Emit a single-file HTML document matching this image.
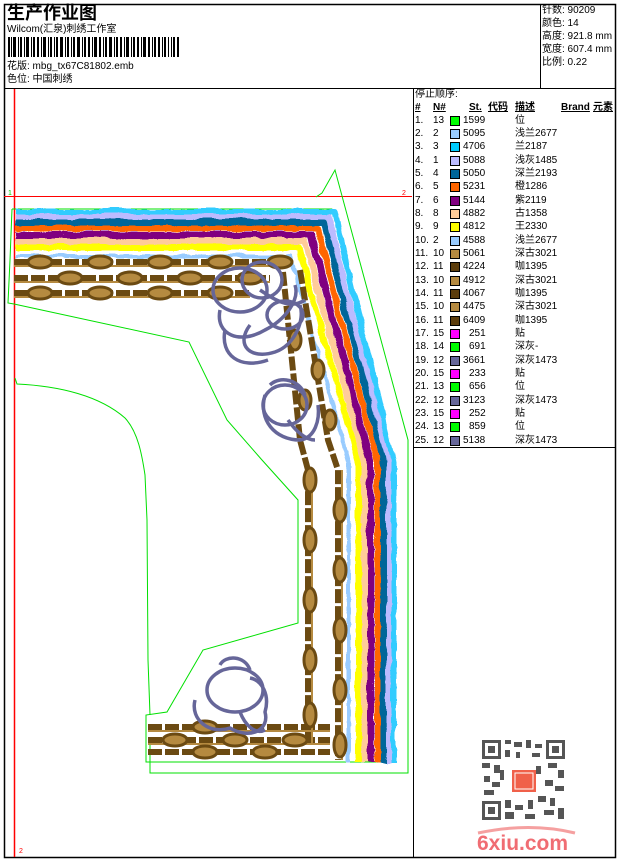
<!DOCTYPE html>
<html><head><meta charset="utf-8"><style>
html,body{margin:0;padding:0;background:#fff;}
body{width:620px;height:860px;position:relative;overflow:hidden;font-family:"Liberation Sans","Noto Sans CJK SC",sans-serif;}
.t{position:absolute;font-size:10px;color:#000;white-space:nowrap;line-height:12px;}
</style></head><body>
<svg width="620" height="860" style="position:absolute;left:0;top:0" xmlns="http://www.w3.org/2000/svg">
<defs>
<filter id="wv" x="-5%" y="-5%" width="110%" height="110%">
<feTurbulence type="turbulence" baseFrequency="0.04 0.04" numOctaves="2" seed="3" result="n"/>
<feDisplacementMap in="SourceGraphic" in2="n" scale="5" xChannelSelector="R" yChannelSelector="G"/>
</filter>
</defs>
<rect x="4.5" y="4.5" width="611" height="853" fill="none" stroke="#000" stroke-width="1.5"/>
<line x1="4" y1="88.5" x2="616" y2="88.5" stroke="#000"/>
<line x1="540.5" y1="4" x2="540.5" y2="88" stroke="#000"/>
<line x1="413.5" y1="88" x2="413.5" y2="858" stroke="#000"/>
<line x1="413" y1="447.5" x2="616" y2="447.5" stroke="#000"/>
<g fill="#000">
<rect x="8" y="37" width="2" height="20"/><rect x="11" y="37" width="1" height="20"/><rect x="13" y="37" width="3" height="20"/><rect x="18" y="37" width="1" height="20"/><rect x="20" y="37" width="2" height="20"/><rect x="24" y="37" width="1" height="20"/><rect x="26" y="37" width="3" height="20"/><rect x="31" y="37" width="1" height="20"/><rect x="33" y="37" width="2" height="20"/><rect x="37" y="37" width="2" height="20"/><rect x="41" y="37" width="1" height="20"/><rect x="43" y="37" width="3" height="20"/><rect x="48" y="37" width="1" height="20"/><rect x="50" y="37" width="2" height="20"/><rect x="54" y="37" width="1" height="20"/><rect x="56" y="37" width="2" height="20"/><rect x="60" y="37" width="3" height="20"/><rect x="65" y="37" width="1" height="20"/><rect x="67" y="37" width="2" height="20"/><rect x="71" y="37" width="1" height="20"/><rect x="73" y="37" width="2" height="20"/><rect x="77" y="37" width="3" height="20"/><rect x="82" y="37" width="1" height="20"/><rect x="84" y="37" width="2" height="20"/><rect x="88" y="37" width="2" height="20"/><rect x="92" y="37" width="1" height="20"/><rect x="94" y="37" width="3" height="20"/><rect x="99" y="37" width="2" height="20"/><rect x="103" y="37" width="1" height="20"/><rect x="105" y="37" width="2" height="20"/><rect x="109" y="37" width="3" height="20"/><rect x="114" y="37" width="1" height="20"/><rect x="116" y="37" width="2" height="20"/><rect x="120" y="37" width="2" height="20"/><rect x="124" y="37" width="1" height="20"/><rect x="126" y="37" width="3" height="20"/><rect x="131" y="37" width="1" height="20"/><rect x="133" y="37" width="2" height="20"/><rect x="137" y="37" width="2" height="20"/><rect x="141" y="37" width="1" height="20"/><rect x="143" y="37" width="3" height="20"/><rect x="148" y="37" width="2" height="20"/><rect x="152" y="37" width="1" height="20"/><rect x="154" y="37" width="2" height="20"/><rect x="158" y="37" width="2" height="20"/><rect x="162" y="37" width="1" height="20"/><rect x="164" y="37" width="2" height="20"/><rect x="168" y="37" width="1" height="20"/><rect x="171" y="37" width="1" height="20"/><rect x="173" y="37" width="2" height="20"/><rect x="177" y="37" width="2" height="20"/>
</g>
<line x1="14.5" y1="89" x2="14.5" y2="857" stroke="#f00" stroke-width="1.5"/>
<line x1="4" y1="196.5" x2="412" y2="196.5" stroke="#f00" stroke-width="1"/>
<text x="8" y="195" font-size="7" fill="#0c0" font-family="Liberation Sans">1</text>
<text x="402" y="195" font-size="7" fill="#f00" font-family="Liberation Sans">2</text>
<text x="19" y="853" font-size="7" fill="#f00" font-family="Liberation Sans">2</text>
<g fill="none" stroke="#00e000" stroke-width="1">
<polyline points="316,197 322,193 335,170 408,440 408,773 150,773 150,745"/>
<polyline points="12,209 332,209"/>
<polyline points="12,209 10,260 8,303 14,304 189,342 227,420 262,460 298,500 298,623 203,650 167,712 146,715 146,762 330,762 395,762"/>
<path d="M15,378 L17,384 C60,386 100,396 125,418 C138,432 142,455 145,475 L147,520 L148,660 L150,715"/>
</g>
<g fill="none" stroke-width="6" filter="url(#wv)" stroke-linejoin="round">
<polyline stroke="#33ccff" points="14,211 333,211 392,460 392,762"/>
<polyline stroke="#bbbbff" points="14,216 327,216 387,460 387,762"/>
<polyline stroke="#006699" points="14,221 322,221 382,460 382,762"/>
<polyline stroke="#ff6600" points="14,227 316,227 376,460 376,762"/>
<polyline stroke="#800080" stroke-width="7" points="14,234 310,234 369,460 369,762"/>
<polyline stroke="#ffcc99" points="14,240 304,240 363,460 363,762"/>
<polyline stroke="#ffff00" points="14,246 298,246 357,460 357,762"/>
<polyline stroke="#99ccff" stroke-width="4" points="14,255 290,255 347,460 347,762"/>
</g>
<g fill="none" stroke-linejoin="round">
<g stroke="#6b4a12" stroke-width="6" stroke-dasharray="14 3">
<polyline points="14,262 290,262"/>
<polyline points="14,278 270,278"/>
<polyline points="14,293 250,293"/>
<polyline points="283,272 300,440 308,470 308,745"/>
<polyline points="300,270 328,440 338,470 338,760"/>
<polyline points="148,727 330,727"/>
<polyline points="148,740 330,740"/>
<polyline points="148,752 330,752"/>
</g>
<g stroke="#b58a40" stroke-width="2">
<polyline points="14,266 290,266"/><polyline points="14,282 270,282"/><polyline points="14,297 250,297"/>
<polyline points="312,470 312,745"/><polyline points="342,470 342,760"/>
<polyline points="148,731 330,731"/><polyline points="148,744 330,744"/>
</g>
</g>
<g fill="#b58a40" stroke="#6b4a12" stroke-width="3">
<ellipse cx="40" cy="262" rx="12" ry="6"/><ellipse cx="100" cy="262" rx="12" ry="6"/><ellipse cx="160" cy="262" rx="12" ry="6"/><ellipse cx="220" cy="262" rx="12" ry="6"/><ellipse cx="280" cy="262" rx="12" ry="6"/>
<ellipse cx="70" cy="278" rx="12" ry="6"/><ellipse cx="130" cy="278" rx="12" ry="6"/><ellipse cx="190" cy="278" rx="12" ry="6"/><ellipse cx="250" cy="278" rx="12" ry="6"/>
<ellipse cx="40" cy="293" rx="12" ry="6"/><ellipse cx="100" cy="293" rx="12" ry="6"/><ellipse cx="160" cy="293" rx="12" ry="6"/><ellipse cx="220" cy="293" rx="12" ry="6"/>
<ellipse cx="310" cy="480" rx="6" ry="12"/><ellipse cx="310" cy="540" rx="6" ry="12"/><ellipse cx="310" cy="600" rx="6" ry="12"/><ellipse cx="310" cy="660" rx="6" ry="12"/><ellipse cx="310" cy="715" rx="6" ry="12"/>
<ellipse cx="340" cy="510" rx="6" ry="12"/><ellipse cx="340" cy="570" rx="6" ry="12"/><ellipse cx="340" cy="630" rx="6" ry="12"/><ellipse cx="340" cy="690" rx="6" ry="12"/><ellipse cx="340" cy="745" rx="6" ry="12"/>
<ellipse cx="295" cy="340" rx="6" ry="10"/><ellipse cx="305" cy="400" rx="6" ry="10"/><ellipse cx="330" cy="420" rx="6" ry="10"/><ellipse cx="318" cy="370" rx="6" ry="10"/>
<ellipse cx="175" cy="740" rx="12" ry="6"/><ellipse cx="235" cy="740" rx="12" ry="6"/><ellipse cx="295" cy="740" rx="12" ry="6"/>
<ellipse cx="205" cy="727" rx="12" ry="6"/><ellipse cx="265" cy="752" rx="12" ry="6"/><ellipse cx="205" cy="752" rx="12" ry="6"/>
</g>
<g fill="none" stroke="#666699" stroke-width="3.5" stroke-linejoin="round">
<ellipse cx="240" cy="290" rx="27" ry="22"/>
<ellipse cx="262" cy="280" rx="20" ry="18"/>
<path d="M220,310 C215,335 240,345 265,330 C285,320 300,300 295,285"/>
<path d="M250,325 C235,345 250,360 275,352 C295,345 305,320 300,305"/>
<path d="M260,290 C275,300 290,310 305,300"/>
<ellipse cx="285" cy="315" rx="18" ry="14"/>
<path d="M225,330 C220,355 240,370 268,360"/>
<ellipse cx="285" cy="405" rx="22" ry="20"/>
<path d="M265,395 C258,420 275,440 300,440 C315,438 320,420 318,405"/>
<path d="M270,385 C280,375 300,380 305,395"/>
<path d="M288,420 C295,430 305,440 315,440"/>
<ellipse cx="235" cy="690" rx="28" ry="22"/>
<path d="M195,700 C190,720 210,735 230,728 C250,740 270,730 265,712 C270,695 262,680 250,678"/>
<path d="M220,665 C225,655 245,655 250,670"/>
<path d="M240,712 C245,725 255,735 265,730"/>
</g>
<g fill="#555">
<rect x="482" y="740" width="19" height="19"/><rect x="546" y="740" width="19" height="19"/><rect x="482" y="801" width="19" height="19"/>
<rect x="505" y="740" width="6" height="4"/><rect x="514" y="742" width="8" height="5"/><rect x="526" y="740" width="5" height="8"/><rect x="535" y="744" width="7" height="4"/>
<rect x="505" y="750" width="5" height="7"/><rect x="516" y="752" width="4" height="6"/><rect x="532" y="753" width="8" height="4"/>
<rect x="482" y="763" width="8" height="5"/><rect x="494" y="765" width="6" height="8"/><rect x="548" y="763" width="9" height="5"/><rect x="558" y="770" width="6" height="8"/>
<rect x="484" y="776" width="6" height="6"/><rect x="492" y="782" width="8" height="5"/><rect x="545" y="780" width="8" height="6"/><rect x="555" y="786" width="9" height="5"/>
<rect x="484" y="790" width="10" height="5"/><rect x="505" y="800" width="6" height="8"/><rect x="515" y="805" width="8" height="5"/><rect x="528" y="800" width="5" height="9"/>
<rect x="538" y="796" width="8" height="6"/><rect x="550" y="798" width="5" height="8"/><rect x="544" y="810" width="10" height="5"/><rect x="558" y="808" width="6" height="11"/>
<rect x="505" y="812" width="9" height="7"/><rect x="525" y="814" width="10" height="5"/><rect x="500" y="770" width="4" height="10"/><rect x="536" y="766" width="5" height="8"/>
</g>
<g fill="#fff"><rect x="485" y="743" width="13" height="13"/><rect x="549" y="743" width="13" height="13"/><rect x="485" y="804" width="13" height="13"/></g>
<g fill="#555"><rect x="488" y="746" width="7" height="7"/><rect x="552" y="746" width="7" height="7"/><rect x="488" y="807" width="7" height="7"/></g>
<rect x="512" y="770" width="24" height="22" fill="#f0604a"/>
<rect x="515" y="773" width="18" height="16" fill="none" stroke="#fff" stroke-width="1"/>
<path d="M478,833 Q530,822 575,833" fill="none" stroke="#f5a0a0" stroke-width="3"/>
<text x="477" y="850" font-family="Liberation Sans" font-weight="bold" font-size="21" fill="#f06d73">6xiu.com</text>
</svg>
<div class="t" style="left:7px;top:3px;font-size:18px;line-height:20px;font-weight:bold;">生产作业图</div>
<div class="t" style="left:7px;top:24px;">Wilcom(汇泉)刺绣工作室</div>
<div class="t" style="left:7px;top:61px;">花版: mbg_tx67C81802.emb</div>
<div class="t" style="left:7px;top:74px;">色位: 中国刺绣</div>
<div class="t" style="left:542px;top:5px;">针数: 90209</div>
<div class="t" style="left:542px;top:18px;">颜色: 14</div>
<div class="t" style="left:542px;top:31px;">高度: 921.8 mm</div>
<div class="t" style="left:542px;top:44px;">宽度: 607.4 mm</div>
<div class="t" style="left:542px;top:57px;">比例: 0.22</div>
<div class="t" style="left:415px;top:89px;">停止顺序:</div>
<div class="t" style="left:415px;top:102px;font-weight:bold;text-decoration:underline;">#</div>
<div class="t" style="left:433px;top:102px;font-weight:bold;text-decoration:underline;">N#</div>
<div class="t" style="left:469px;top:102px;font-weight:bold;text-decoration:underline;">St.</div>
<div class="t" style="left:488px;top:102px;font-weight:bold;text-decoration:underline;">代码</div>
<div class="t" style="left:515px;top:102px;font-weight:bold;text-decoration:underline;">描述</div>
<div class="t" style="left:561px;top:102px;font-weight:bold;text-decoration:underline;">Brand</div>
<div class="t" style="left:593px;top:102px;font-weight:bold;text-decoration:underline;">元素</div>
<div style="position:absolute;left:0;top:0;">
<div class="t" style="left:415px;top:115px">1.</div><div class="t" style="left:433px;top:115px">13</div><div style="position:absolute;left:450px;top:116px;width:8px;height:8px;border:1px solid #000;background:#00ff00"></div><div class="t" style="left:463px;top:115px">1599</div><div class="t" style="left:515px;top:115px">位</div>
<div class="t" style="left:415px;top:128px">2.</div><div class="t" style="left:433px;top:128px">2</div><div style="position:absolute;left:450px;top:129px;width:8px;height:8px;border:1px solid #000;background:#99ccff"></div><div class="t" style="left:463px;top:128px">5095</div><div class="t" style="left:515px;top:128px">浅兰2677</div>
<div class="t" style="left:415px;top:141px">3.</div><div class="t" style="left:433px;top:141px">3</div><div style="position:absolute;left:450px;top:142px;width:8px;height:8px;border:1px solid #000;background:#00ccff"></div><div class="t" style="left:463px;top:141px">4706</div><div class="t" style="left:515px;top:141px">兰2187</div>
<div class="t" style="left:415px;top:155px">4.</div><div class="t" style="left:433px;top:155px">1</div><div style="position:absolute;left:450px;top:156px;width:8px;height:8px;border:1px solid #000;background:#bbbbff"></div><div class="t" style="left:463px;top:155px">5088</div><div class="t" style="left:515px;top:155px">浅灰1485</div>
<div class="t" style="left:415px;top:168px">5.</div><div class="t" style="left:433px;top:168px">4</div><div style="position:absolute;left:450px;top:169px;width:8px;height:8px;border:1px solid #000;background:#006699"></div><div class="t" style="left:463px;top:168px">5050</div><div class="t" style="left:515px;top:168px">深兰2193</div>
<div class="t" style="left:415px;top:181px">6.</div><div class="t" style="left:433px;top:181px">5</div><div style="position:absolute;left:450px;top:182px;width:8px;height:8px;border:1px solid #000;background:#ff6600"></div><div class="t" style="left:463px;top:181px">5231</div><div class="t" style="left:515px;top:181px">橙1286</div>
<div class="t" style="left:415px;top:195px">7.</div><div class="t" style="left:433px;top:195px">6</div><div style="position:absolute;left:450px;top:196px;width:8px;height:8px;border:1px solid #000;background:#800080"></div><div class="t" style="left:463px;top:195px">5144</div><div class="t" style="left:515px;top:195px">紫2119</div>
<div class="t" style="left:415px;top:208px">8.</div><div class="t" style="left:433px;top:208px">8</div><div style="position:absolute;left:450px;top:209px;width:8px;height:8px;border:1px solid #000;background:#ffcc99"></div><div class="t" style="left:463px;top:208px">4882</div><div class="t" style="left:515px;top:208px">古1358</div>
<div class="t" style="left:415px;top:221px">9.</div><div class="t" style="left:433px;top:221px">9</div><div style="position:absolute;left:450px;top:222px;width:8px;height:8px;border:1px solid #000;background:#ffff00"></div><div class="t" style="left:463px;top:221px">4812</div><div class="t" style="left:515px;top:221px">王2330</div>
<div class="t" style="left:415px;top:235px">10.</div><div class="t" style="left:433px;top:235px">2</div><div style="position:absolute;left:450px;top:236px;width:8px;height:8px;border:1px solid #000;background:#99ccff"></div><div class="t" style="left:463px;top:235px">4588</div><div class="t" style="left:515px;top:235px">浅兰2677</div>
<div class="t" style="left:415px;top:248px">11.</div><div class="t" style="left:433px;top:248px">10</div><div style="position:absolute;left:450px;top:249px;width:8px;height:8px;border:1px solid #000;background:#b58a40"></div><div class="t" style="left:463px;top:248px">5061</div><div class="t" style="left:515px;top:248px">深古3021</div>
<div class="t" style="left:415px;top:261px">12.</div><div class="t" style="left:433px;top:261px">11</div><div style="position:absolute;left:450px;top:262px;width:8px;height:8px;border:1px solid #000;background:#5c3d0c"></div><div class="t" style="left:463px;top:261px">4224</div><div class="t" style="left:515px;top:261px">咖1395</div>
<div class="t" style="left:415px;top:275px">13.</div><div class="t" style="left:433px;top:275px">10</div><div style="position:absolute;left:450px;top:276px;width:8px;height:8px;border:1px solid #000;background:#b58a40"></div><div class="t" style="left:463px;top:275px">4912</div><div class="t" style="left:515px;top:275px">深古3021</div>
<div class="t" style="left:415px;top:288px">14.</div><div class="t" style="left:433px;top:288px">11</div><div style="position:absolute;left:450px;top:289px;width:8px;height:8px;border:1px solid #000;background:#5c3d0c"></div><div class="t" style="left:463px;top:288px">4067</div><div class="t" style="left:515px;top:288px">咖1395</div>
<div class="t" style="left:415px;top:301px">15.</div><div class="t" style="left:433px;top:301px">10</div><div style="position:absolute;left:450px;top:302px;width:8px;height:8px;border:1px solid #000;background:#b58a40"></div><div class="t" style="left:463px;top:301px">4475</div><div class="t" style="left:515px;top:301px">深古3021</div>
<div class="t" style="left:415px;top:315px">16.</div><div class="t" style="left:433px;top:315px">11</div><div style="position:absolute;left:450px;top:316px;width:8px;height:8px;border:1px solid #000;background:#5c3d0c"></div><div class="t" style="left:463px;top:315px">6409</div><div class="t" style="left:515px;top:315px">咖1395</div>
<div class="t" style="left:415px;top:328px">17.</div><div class="t" style="left:433px;top:328px">15</div><div style="position:absolute;left:450px;top:329px;width:8px;height:8px;border:1px solid #000;background:#ff00ff"></div><div class="t" style="left:469px;top:328px">251</div><div class="t" style="left:515px;top:328px">贴</div>
<div class="t" style="left:415px;top:341px">18.</div><div class="t" style="left:433px;top:341px">14</div><div style="position:absolute;left:450px;top:342px;width:8px;height:8px;border:1px solid #000;background:#00ff00"></div><div class="t" style="left:469px;top:341px">691</div><div class="t" style="left:515px;top:341px">深灰-</div>
<div class="t" style="left:415px;top:355px">19.</div><div class="t" style="left:433px;top:355px">12</div><div style="position:absolute;left:450px;top:356px;width:8px;height:8px;border:1px solid #000;background:#666699"></div><div class="t" style="left:463px;top:355px">3661</div><div class="t" style="left:515px;top:355px">深灰1473</div>
<div class="t" style="left:415px;top:368px">20.</div><div class="t" style="left:433px;top:368px">15</div><div style="position:absolute;left:450px;top:369px;width:8px;height:8px;border:1px solid #000;background:#ff00ff"></div><div class="t" style="left:469px;top:368px">233</div><div class="t" style="left:515px;top:368px">贴</div>
<div class="t" style="left:415px;top:381px">21.</div><div class="t" style="left:433px;top:381px">13</div><div style="position:absolute;left:450px;top:382px;width:8px;height:8px;border:1px solid #000;background:#00ff00"></div><div class="t" style="left:469px;top:381px">656</div><div class="t" style="left:515px;top:381px">位</div>
<div class="t" style="left:415px;top:395px">22.</div><div class="t" style="left:433px;top:395px">12</div><div style="position:absolute;left:450px;top:396px;width:8px;height:8px;border:1px solid #000;background:#666699"></div><div class="t" style="left:463px;top:395px">3123</div><div class="t" style="left:515px;top:395px">深灰1473</div>
<div class="t" style="left:415px;top:408px">23.</div><div class="t" style="left:433px;top:408px">15</div><div style="position:absolute;left:450px;top:409px;width:8px;height:8px;border:1px solid #000;background:#ff00ff"></div><div class="t" style="left:469px;top:408px">252</div><div class="t" style="left:515px;top:408px">贴</div>
<div class="t" style="left:415px;top:421px">24.</div><div class="t" style="left:433px;top:421px">13</div><div style="position:absolute;left:450px;top:422px;width:8px;height:8px;border:1px solid #000;background:#00ff00"></div><div class="t" style="left:469px;top:421px">859</div><div class="t" style="left:515px;top:421px">位</div>
<div class="t" style="left:415px;top:435px">25.</div><div class="t" style="left:433px;top:435px">12</div><div style="position:absolute;left:450px;top:436px;width:8px;height:8px;border:1px solid #000;background:#666699"></div><div class="t" style="left:463px;top:435px">5138</div><div class="t" style="left:515px;top:435px">深灰1473</div>
</div>
</body></html>
